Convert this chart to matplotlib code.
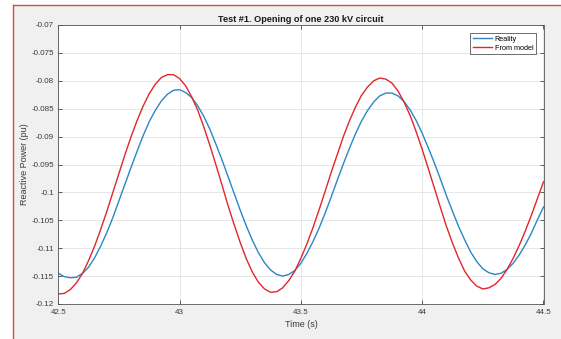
import matplotlib

matplotlib.use("Agg")
import matplotlib.pyplot as plt
import numpy as np
from matplotlib.lines import Line2D
from matplotlib.patches import Rectangle
from matplotlib.ticker import FormatStrFormatter

plt.rcParams["font.family"] = ["Liberation Sans", "DejaVu Sans"]
plt.rcParams["axes.unicode_minus"] = False

# samples every 25 ms from 42.5 s to 44.5 s
time_s = np.linspace(42.5, 44.5, 81)

q_reality = [
    -0.1145, -0.1151, -0.1153, -0.1152, -0.1145, -0.1134, -0.1117, -0.1096, -0.1072, -0.1045,
    -0.1015, -0.0985, -0.0955, -0.0926, -0.0898, -0.0873, -0.0853, -0.0836, -0.0824, -0.0817,
    -0.0816, -0.0821, -0.0830, -0.0845, -0.0864, -0.0887, -0.0914, -0.0942, -0.0972, -0.1002,
    -0.1032, -0.1060, -0.1086, -0.1108, -0.1126, -0.1139, -0.1147, -0.1150, -0.1147, -0.1140,
    -0.1127, -0.1109, -0.1088, -0.1064, -0.1037, -0.1008, -0.0978, -0.0949, -0.0921, -0.0895,
    -0.0872, -0.0853, -0.0838, -0.0827, -0.0822, -0.0822, -0.0827, -0.0837, -0.0852, -0.0871,
    -0.0894, -0.0920, -0.0947, -0.0976, -0.1006, -0.1034, -0.1061, -0.1085, -0.1107, -0.1124,
    -0.1137, -0.1144, -0.1147, -0.1145, -0.1138, -0.1127, -0.1112, -0.1094, -0.1073, -0.1049,
    -0.1026,
]

q_model = [
    -0.1182, -0.1181, -0.1174, -0.1162, -0.1145, -0.1122, -0.1096, -0.1066, -0.1034, -0.1000,
    -0.0966, -0.0932, -0.0900, -0.0871, -0.0845, -0.0823, -0.0806, -0.0794, -0.0789, -0.0789,
    -0.0796, -0.0809, -0.0829, -0.0853, -0.0883, -0.0916, -0.0951, -0.0987, -0.1024, -0.1058,
    -0.1090, -0.1119, -0.1143, -0.1161, -0.1173, -0.1179, -0.1178, -0.1171, -0.1158, -0.1141,
    -0.1118, -0.1092, -0.1063, -0.1031, -0.0998, -0.0964, -0.0932, -0.0900, -0.0872, -0.0847,
    -0.0826, -0.0811, -0.0800, -0.0795, -0.0797, -0.0804, -0.0818, -0.0838, -0.0862, -0.0891,
    -0.0923, -0.0957, -0.0992, -0.1027, -0.1061, -0.1091, -0.1118, -0.1141, -0.1157, -0.1168,
    -0.1173, -0.1171, -0.1165, -0.1154, -0.1138, -0.1118, -0.1095, -0.1069, -0.1041, -0.1011,
    -0.0981,
]

x_ticks = [42.5, 43, 43.5, 44, 44.5]
y_ticks = [-0.12, -0.115, -0.11, -0.105, -0.1, -0.095, -0.09, -0.085, -0.08, -0.075, -0.07]

W, H = 561, 339
fig = plt.figure(figsize=(W / 100, H / 100), dpi=100, facecolor="white")

# gray window background with the red outline on its left/top edges
x0, y0 = 13 / W, 1 - 4.7 / H
fig.patches.append(Rectangle((x0, 0), 1 - x0, y0, transform=fig.transFigure,
                             facecolor="#f0f0f0", edgecolor="none", zorder=-10))
fig.lines.append(Line2D([x0, x0], [0, y0], transform=fig.transFigure, color="#e04848",
                        lw=1.0, zorder=-5))
fig.lines.append(Line2D([x0, 1], [y0, y0], transform=fig.transFigure, color="#e04848",
                        lw=1.0, zorder=-5))

ax = fig.add_axes([58.3 / W, 1 - 304 / H, (543.5 - 58.3) / W, (304 - 25) / H])
ax.set_facecolor("white")
ax.plot(time_s, q_reality, color="#2b87c4", lw=1.0, label="Reality")
ax.plot(time_s, q_model, color="#e1262d", lw=1.0, label="From model")

ax.set_xlim(42.5, 44.5)
ax.set_ylim(-0.12, -0.07)
ax.set_xticks(x_ticks)
ax.set_yticks(y_ticks)
ax.xaxis.set_major_formatter(FormatStrFormatter("%g"))
ax.yaxis.set_major_formatter(FormatStrFormatter("%g"))
ax.grid(True, color="#e3e3e3", lw=0.6)
ax.set_axisbelow(True)
ax.tick_params(direction="in", length=3, width=0.6, color="#444444",
               labelsize=5.8, labelcolor="#3a3a3a", top=True, right=True)
ax.tick_params(axis="x", pad=3.5)
ax.tick_params(axis="y", pad=3)
for sp in ax.spines.values():
    sp.set_color("#555555")
    sp.set_linewidth(0.6)

ax.set_title("Test #1. Opening of one 230 kV circuit", fontsize=6.6,
             fontweight="bold", color="#1a1a1a", pad=2.5)
ax.set_xlabel("Time (s)", fontsize=6.5, color="#3a3a3a", labelpad=3)
ax.set_ylabel("Reactive Power (pu)", fontsize=6.5, color="#3a3a3a", labelpad=2)

leg = ax.legend(loc="upper right", bbox_to_anchor=(0.984, 0.970), borderaxespad=0,
                fontsize=5.2, fancybox=False, framealpha=1, edgecolor="#555555",
                handlelength=2.6, handletextpad=0.4, borderpad=0.35, labelspacing=0.25)
leg.get_frame().set_linewidth(0.6)

fig.savefig("out.png", dpi=100, facecolor=fig.get_facecolor())
